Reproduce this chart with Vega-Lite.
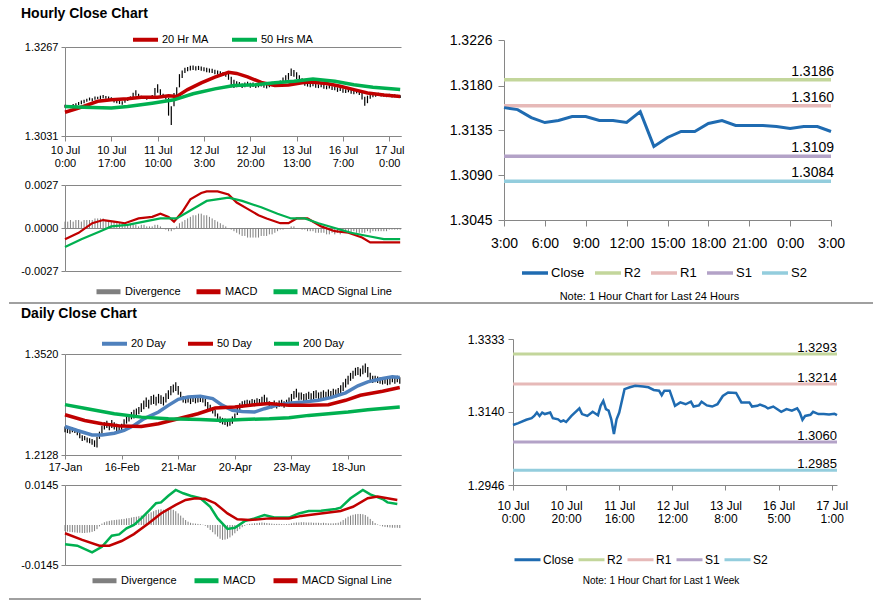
{
"$schema": "https://vega.github.io/schema/vega-lite/v6.json",
"padding": {"left": 8, "top": 7, "right": 0, "bottom": 0},
"spacing": 0,
"config": {
 "font": "Liberation Sans",
 "view": {"stroke": null},
 "axis": {"labelFont": "Liberation Sans", "labelFontSize": 11, "labelColor": "#000000", "domainColor": "#868686", "tickColor": "#868686", "gridColor": "#868686", "labelOverlap": false, "labelFlush": false},
 "legend": {"labelFont": "Liberation Sans", "labelFontSize": 11, "labelColor": "#000000", "padding": 0},
 "title": {"font": "Liberation Sans", "color": "#000000"}
},
"datasets": {
 "hb": [
{"i":0,"l":1.3106,"h":1.3114,"d":0.0004},{"i":1,"l":1.3107,"h":1.3113,"d":0.0004},{"i":2,"l":1.3105,"h":1.3112,"d":0.0005},{"i":3,"l":1.3108,"h":1.3116,"d":0.0004},{"i":4,"l":1.311,"h":1.3118,"d":0.0005},{"i":5,"l":1.3113,"h":1.3121,"d":0.0005},{"i":6,"l":1.3115,"h":1.3125,"d":0.0004},{"i":7,"l":1.3118,"h":1.3127,"d":0.0005},{"i":8,"l":1.3122,"h":1.313,"d":0.0005},{"i":9,"l":1.3125,"h":1.3133,"d":0.0005},
{"i":10,"l":1.3123,"h":1.3131,"d":0.0005},{"i":11,"l":1.3127,"h":1.3136,"d":0.0006},{"i":12,"l":1.3129,"h":1.3135,"d":0.0006},{"i":13,"l":1.3128,"h":1.3138,"d":0.0006},{"i":14,"l":1.3131,"h":1.314,"d":0.0006},{"i":15,"l":1.313,"h":1.3137,"d":0.0005},{"i":16,"l":1.3128,"h":1.3136,"d":0.0005},{"i":17,"l":1.3124,"h":1.3134,"d":0.0004},{"i":18,"l":1.312,"h":1.313,"d":0.0004},{"i":19,"l":1.3118,"h":1.3126,"d":0.0003},
{"i":20,"l":1.3116,"h":1.3124,"d":0.0003},{"i":21,"l":1.3114,"h":1.3123,"d":0.0003},{"i":22,"l":1.3119,"h":1.3128,"d":0.0002},{"i":23,"l":1.3124,"h":1.3133,"d":0.0002},{"i":24,"l":1.3127,"h":1.3136,"d":0.0002},{"i":25,"l":1.3132,"h":1.3146,"d":0.0002},{"i":26,"l":1.3138,"h":1.3152,"d":0.0002},{"i":27,"l":1.3133,"h":1.3143,"d":0.0001},{"i":28,"l":1.313,"h":1.3138,"d":0.0002},{"i":29,"l":1.3129,"h":1.3136,"d":0.0002},
{"i":30,"l":1.3127,"h":1.3135,"d":0.0001},{"i":31,"l":1.3129,"h":1.3137,"d":0.0001},{"i":32,"l":1.3131,"h":1.314,"d":0.0001},{"i":33,"l":1.3138,"h":1.3158,"d":0.0002},{"i":34,"l":1.3146,"h":1.3168,"d":0.0002},{"i":35,"l":1.314,"h":1.3155,"d":0.0001},{"i":36,"l":1.3132,"h":1.3143,"d":0.0},{"i":37,"l":1.3128,"h":1.3138,"d":-0.0001},{"i":38,"l":1.3085,"h":1.3132,"d":-0.0002},{"i":39,"l":1.306,"h":1.311,"d":-0.0002},
{"i":40,"l":1.311,"h":1.3145,"d":-0.0001},{"i":41,"l":1.314,"h":1.316,"d":0.0001},{"i":42,"l":1.316,"h":1.3195,"d":0.0003},{"i":43,"l":1.3185,"h":1.3205,"d":0.0004},{"i":44,"l":1.3198,"h":1.3212,"d":0.0005},{"i":45,"l":1.3203,"h":1.3214,"d":0.0006},{"i":46,"l":1.3205,"h":1.3217,"d":0.0007},{"i":47,"l":1.3206,"h":1.3218,"d":0.0008},{"i":48,"l":1.3205,"h":1.3216,"d":0.0008},{"i":49,"l":1.3206,"h":1.3217,"d":0.0009},
{"i":50,"l":1.3204,"h":1.3215,"d":0.0009},{"i":51,"l":1.3203,"h":1.3213,"d":0.0008},{"i":52,"l":1.32,"h":1.3212,"d":0.0008},{"i":53,"l":1.3199,"h":1.321,"d":0.0007},{"i":54,"l":1.3198,"h":1.3209,"d":0.0006},{"i":55,"l":1.3195,"h":1.3207,"d":0.0005},{"i":56,"l":1.3194,"h":1.3205,"d":0.0004},{"i":57,"l":1.3192,"h":1.3203,"d":0.0003},{"i":58,"l":1.319,"h":1.3201,"d":0.0002},{"i":59,"l":1.3188,"h":1.3198,"d":0.0001},
{"i":60,"l":1.318,"h":1.3196,"d":0.0},{"i":61,"l":1.316,"h":1.3188,"d":-0.0001},{"i":62,"l":1.3158,"h":1.318,"d":-0.0002},{"i":63,"l":1.316,"h":1.3176,"d":-0.0003},{"i":64,"l":1.3162,"h":1.3174,"d":-0.0004},{"i":65,"l":1.3158,"h":1.317,"d":-0.0005},{"i":66,"l":1.316,"h":1.3173,"d":-0.0005},{"i":67,"l":1.3163,"h":1.3175,"d":-0.0006},{"i":68,"l":1.3159,"h":1.3172,"d":-0.0006},{"i":69,"l":1.3161,"h":1.3173,"d":-0.0006},
{"i":70,"l":1.3158,"h":1.317,"d":-0.0006},{"i":71,"l":1.316,"h":1.3172,"d":-0.0006},{"i":72,"l":1.3162,"h":1.3174,"d":-0.0005},{"i":73,"l":1.3159,"h":1.3171,"d":-0.0005},{"i":74,"l":1.3157,"h":1.3169,"d":-0.0005},{"i":75,"l":1.316,"h":1.3172,"d":-0.0004},{"i":76,"l":1.3163,"h":1.3175,"d":-0.0004},{"i":77,"l":1.3161,"h":1.3173,"d":-0.0003},{"i":78,"l":1.3164,"h":1.3176,"d":-0.0002},{"i":79,"l":1.3166,"h":1.3178,"d":-0.0001},
{"i":80,"l":1.3172,"h":1.3186,"d":-0.0001},{"i":81,"l":1.3176,"h":1.3192,"d":0.0},{"i":82,"l":1.318,"h":1.3198,"d":0.0},{"i":83,"l":1.319,"h":1.321,"d":0.0001},{"i":84,"l":1.3188,"h":1.3206,"d":0.0001},{"i":85,"l":1.3182,"h":1.32,"d":0.0},{"i":86,"l":1.3176,"h":1.3192,"d":0.0},{"i":87,"l":1.317,"h":1.3184,"d":-0.0001},{"i":88,"l":1.3164,"h":1.3176,"d":-0.0001},{"i":89,"l":1.3162,"h":1.3173,"d":-0.0002},
{"i":90,"l":1.316,"h":1.3172,"d":-0.0002},{"i":91,"l":1.3163,"h":1.3174,"d":-0.0002},{"i":92,"l":1.3159,"h":1.317,"d":-0.0003},{"i":93,"l":1.3158,"h":1.3168,"d":-0.0003},{"i":94,"l":1.316,"h":1.3171,"d":-0.0003},{"i":95,"l":1.3156,"h":1.3167,"d":-0.0003},{"i":96,"l":1.3155,"h":1.3165,"d":-0.0004},{"i":97,"l":1.3157,"h":1.3167,"d":-0.0004},{"i":98,"l":1.3153,"h":1.3163,"d":-0.0003},{"i":99,"l":1.3152,"h":1.3162,"d":-0.0004},
{"i":100,"l":1.3148,"h":1.316,"d":-0.0003},{"i":101,"l":1.315,"h":1.3161,"d":-0.0004},{"i":102,"l":1.3146,"h":1.3157,"d":-0.0003},{"i":103,"l":1.3145,"h":1.3155,"d":-0.0003},{"i":104,"l":1.3147,"h":1.3156,"d":-0.0003},{"i":105,"l":1.3143,"h":1.3154,"d":-0.0003},{"i":106,"l":1.3142,"h":1.3152,"d":-0.0002},{"i":107,"l":1.3144,"h":1.3153,"d":-0.0003},{"i":108,"l":1.314,"h":1.3151,"d":-0.0003},{"i":109,"l":1.3128,"h":1.3145,"d":-0.0003},
{"i":110,"l":1.3111,"h":1.3135,"d":-0.0003},{"i":111,"l":1.3118,"h":1.3138,"d":-0.0002},{"i":112,"l":1.313,"h":1.3142,"d":-0.0003},{"i":113,"l":1.3134,"h":1.3144,"d":-0.0002},{"i":114,"l":1.3135,"h":1.3145,"d":-0.0002},{"i":115,"l":1.3137,"h":1.3146,"d":-0.0002},{"i":116,"l":1.3136,"h":1.3144,"d":-0.0002},{"i":117,"l":1.3135,"h":1.3143,"d":-0.0002},{"i":118,"l":1.3134,"h":1.3142,"d":-0.0002},{"i":119,"l":1.3135,"h":1.3143,"d":-0.0001},
{"i":120,"l":1.3133,"h":1.3141,"d":-0.0001},{"i":121,"l":1.3134,"h":1.3142,"d":-0.0001},{"i":122,"l":1.3133,"h":1.314,"d":-0.0001},{"i":123,"l":1.3132,"h":1.3139,"d":-0.0001}
 ],
 "hma": [
{"s":"20 Hr MA","i":0,"v":1.3094},{"s":"20 Hr MA","i":5,"v":1.3105},{"s":"20 Hr MA","i":12,"v":1.3123},{"s":"20 Hr MA","i":17,"v":1.3127},{"s":"20 Hr MA","i":23,"v":1.313},{"s":"20 Hr MA","i":28,"v":1.3134},{"s":"20 Hr MA","i":34,"v":1.3134},{"s":"20 Hr MA","i":38,"v":1.3138},{"s":"20 Hr MA","i":41,"v":1.3136},{"s":"20 Hr MA","i":45,"v":1.3154},{"s":"20 Hr MA","i":50,"v":1.3172},{"s":"20 Hr MA","i":55,"v":1.3187},{"s":"20 Hr MA","i":60,"v":1.32},{"s":"20 Hr MA","i":63,"v":1.3197},{"s":"20 Hr MA","i":67,"v":1.3188},{"s":"20 Hr MA","i":72,"v":1.3173},{"s":"20 Hr MA","i":77,"v":1.3165},{"s":"20 Hr MA","i":82,"v":1.3166},{"s":"20 Hr MA","i":87,"v":1.3172},{"s":"20 Hr MA","i":90,"v":1.3174},{"s":"20 Hr MA","i":96,"v":1.317},{"s":"20 Hr MA","i":101,"v":1.3163},{"s":"20 Hr MA","i":106,"v":1.3154},{"s":"20 Hr MA","i":111,"v":1.3145},{"s":"20 Hr MA","i":117,"v":1.314},{"s":"20 Hr MA","i":123,"v":1.3136},
{"s":"50 Hrs MA","i":0,"v":1.3109},{"s":"50 Hrs MA","i":7,"v":1.3107},{"s":"50 Hrs MA","i":17,"v":1.3105},{"s":"50 Hrs MA","i":23,"v":1.3109},{"s":"50 Hrs MA","i":32,"v":1.3118},{"s":"50 Hrs MA","i":40,"v":1.3127},{"s":"50 Hrs MA","i":47,"v":1.3143},{"s":"50 Hrs MA","i":55,"v":1.3156},{"s":"50 Hrs MA","i":62,"v":1.3165},{"s":"50 Hrs MA","i":70,"v":1.3167},{"s":"50 Hrs MA","i":77,"v":1.3172},{"s":"50 Hrs MA","i":84,"v":1.3176},{"s":"50 Hrs MA","i":91,"v":1.3182},{"s":"50 Hrs MA","i":99,"v":1.3176},{"s":"50 Hrs MA","i":106,"v":1.3167},{"s":"50 Hrs MA","i":113,"v":1.316},{"s":"50 Hrs MA","i":123,"v":1.3154}
 ],
 "hmacd": [
{"s":"MACD","i":0,"v":-0.0007},{"s":"MACD","i":5,"v":-0.0003},{"s":"MACD","i":10,"v":0.0003},{"s":"MACD","i":14,"v":0.0005},{"s":"MACD","i":18,"v":0.0004},{"s":"MACD","i":22,"v":0.0003},{"s":"MACD","i":27,"v":0.0006},{"s":"MACD","i":32,"v":0.0007},{"s":"MACD","i":35,"v":0.0009},{"s":"MACD","i":38,"v":0.0007},{"s":"MACD","i":40,"v":0.0004},{"s":"MACD","i":43,"v":0.001},{"s":"MACD","i":46,"v":0.0018},{"s":"MACD","i":50,"v":0.0022},{"s":"MACD","i":52,"v":0.0023},{"s":"MACD","i":56,"v":0.0023},{"s":"MACD","i":60,"v":0.0021},{"s":"MACD","i":63,"v":0.0016},{"s":"MACD","i":67,"v":0.0012},{"s":"MACD","i":71,"v":0.0008},{"s":"MACD","i":74,"v":0.0006},{"s":"MACD","i":79,"v":0.0003},{"s":"MACD","i":82,"v":0.0003},{"s":"MACD","i":85,"v":0.0006},{"s":"MACD","i":89,"v":0.0006},{"s":"MACD","i":94,"v":0.0001},{"s":"MACD","i":99,"v":-0.0002},{"s":"MACD","i":104,"v":-0.0003},{"s":"MACD","i":109,"v":-0.0006},{"s":"MACD","i":112,"v":-0.0009},{"s":"MACD","i":117,"v":-0.0009},{"s":"MACD","i":123,"v":-0.0009},
{"s":"MACD Signal Line","i":0,"v":-0.0012},{"s":"MACD Signal Line","i":6,"v":-0.0007},{"s":"MACD Signal Line","i":13,"v":-0.0002},{"s":"MACD Signal Line","i":17,"v":0.0001},{"s":"MACD Signal Line","i":23,"v":0.0002},{"s":"MACD Signal Line","i":29,"v":0.0004},{"s":"MACD Signal Line","i":35,"v":0.0006},{"s":"MACD Signal Line","i":41,"v":0.0006},{"s":"MACD Signal Line","i":46,"v":0.0011},{"s":"MACD Signal Line","i":52,"v":0.0017},{"s":"MACD Signal Line","i":60,"v":0.0019},{"s":"MACD Signal Line","i":65,"v":0.0017},{"s":"MACD Signal Line","i":72,"v":0.0013},{"s":"MACD Signal Line","i":78,"v":0.0009},{"s":"MACD Signal Line","i":83,"v":0.0006},{"s":"MACD Signal Line","i":88,"v":0.0006},{"s":"MACD Signal Line","i":93,"v":0.0003},{"s":"MACD Signal Line","i":99,"v":0.0},{"s":"MACD Signal Line","i":105,"v":-0.0003},{"s":"MACD Signal Line","i":111,"v":-0.0005},{"s":"MACD Signal Line","i":117,"v":-0.0007},{"s":"MACD Signal Line","i":123,"v":-0.0007}
 ],
 "c24": [
{"i":0,"v":1.3158},{"i":1,"v":1.3156},{"i":2,"v":1.3148},{"i":3,"v":1.3143},{"i":4,"v":1.3145},{"i":5,"v":1.3149},{"i":6,"v":1.3149},{"i":7,"v":1.3145},{"i":8,"v":1.3145},{"i":9,"v":1.3143},{"i":10,"v":1.3154},{"i":11,"v":1.3119},{"i":12,"v":1.3128},{"i":13,"v":1.3134},{"i":14,"v":1.3134},{"i":15,"v":1.3142},{"i":16,"v":1.3145},{"i":17,"v":1.314},{"i":18,"v":1.314},{"i":19,"v":1.314},{"i":20,"v":1.3139},{"i":21,"v":1.3137},{"i":22,"v":1.3139},{"i":23,"v":1.3139},{"i":24,"v":1.3134}
 ],
 "l24": [{"s":"R2","v":1.3186},{"s":"R1","v":1.316},{"s":"S1","v":1.3109},{"s":"S2","v":1.3084}],
 "db": [
{"i":0,"l":1.244,"h":1.252,"d":-0.0022},{"i":1,"l":1.243,"h":1.25,"d":-0.0024},{"i":2,"l":1.242,"h":1.249,"d":-0.0025},{"i":3,"l":1.244,"h":1.251,"d":-0.0026},{"i":4,"l":1.243,"h":1.2495,"d":-0.0027},{"i":5,"l":1.24,"h":1.247,"d":-0.0028},{"i":6,"l":1.236,"h":1.243,"d":-0.0028},{"i":7,"l":1.232,"h":1.24,"d":-0.0029},{"i":8,"l":1.233,"h":1.239,"d":-0.0029},{"i":9,"l":1.23,"h":1.237,"d":-0.0028},
{"i":10,"l":1.229,"h":1.236,"d":-0.0027},{"i":11,"l":1.227,"h":1.235,"d":-0.0025},{"i":12,"l":1.224,"h":1.233,"d":-0.0022},{"i":13,"l":1.223,"h":1.238,"d":-0.0015},{"i":14,"l":1.235,"h":1.245,"d":-0.0005},{"i":15,"l":1.242,"h":1.253,"d":0.0005},{"i":16,"l":1.248,"h":1.258,"d":0.001},{"i":17,"l":1.25,"h":1.26,"d":0.0013},{"i":18,"l":1.247,"h":1.257,"d":0.0015},{"i":19,"l":1.25,"h":1.261,"d":0.0017},
{"i":20,"l":1.248,"h":1.258,"d":0.0018},{"i":21,"l":1.246,"h":1.256,"d":0.0019},{"i":22,"l":1.245,"h":1.254,"d":0.002},{"i":23,"l":1.247,"h":1.256,"d":0.0021},{"i":24,"l":1.252,"h":1.262,"d":0.0022},{"i":25,"l":1.256,"h":1.266,"d":0.0024},{"i":26,"l":1.259,"h":1.269,"d":0.0025},{"i":27,"l":1.262,"h":1.272,"d":0.0027},{"i":28,"l":1.263,"h":1.275,"d":0.0029},{"i":29,"l":1.265,"h":1.277,"d":0.003},
{"i":30,"l":1.269,"h":1.279,"d":0.0032},{"i":31,"l":1.272,"h":1.284,"d":0.0034},{"i":32,"l":1.276,"h":1.288,"d":0.0036},{"i":33,"l":1.279,"h":1.292,"d":0.0038},{"i":34,"l":1.277,"h":1.289,"d":0.0041},{"i":35,"l":1.282,"h":1.294,"d":0.0046},{"i":36,"l":1.283,"h":1.296,"d":0.005},{"i":37,"l":1.281,"h":1.293,"d":0.0054},{"i":38,"l":1.284,"h":1.297,"d":0.0056},{"i":39,"l":1.283,"h":1.295,"d":0.0057},
{"i":40,"l":1.281,"h":1.293,"d":0.0055},{"i":41,"l":1.285,"h":1.298,"d":0.0056},{"i":42,"l":1.29,"h":1.302,"d":0.0057},{"i":43,"l":1.295,"h":1.308,"d":0.0058},{"i":44,"l":1.299,"h":1.31,"d":0.0055},{"i":45,"l":1.301,"h":1.313,"d":0.005},{"i":46,"l":1.296,"h":1.308,"d":0.0042},{"i":47,"l":1.29,"h":1.3,"d":0.0034},{"i":48,"l":1.285,"h":1.294,"d":0.0026},{"i":49,"l":1.284,"h":1.292,"d":0.0018},
{"i":50,"l":1.285,"h":1.293,"d":0.0012},{"i":51,"l":1.283,"h":1.292,"d":0.0008},{"i":52,"l":1.286,"h":1.294,"d":0.0006},{"i":53,"l":1.284,"h":1.292,"d":0.0005},{"i":54,"l":1.285,"h":1.293,"d":0.0004},{"i":55,"l":1.286,"h":1.295,"d":0.0003},{"i":56,"l":1.285,"h":1.294,"d":0.0001},{"i":57,"l":1.28,"h":1.29,"d":-0.0003},{"i":58,"l":1.276,"h":1.286,"d":-0.001},{"i":59,"l":1.273,"h":1.282,"d":-0.0018},
{"i":60,"l":1.27,"h":1.279,"d":-0.0026},{"i":61,"l":1.266,"h":1.275,"d":-0.0034},{"i":62,"l":1.262,"h":1.27,"d":-0.0042},{"i":63,"l":1.257,"h":1.266,"d":-0.005},{"i":64,"l":1.255,"h":1.264,"d":-0.0054},{"i":65,"l":1.254,"h":1.263,"d":-0.0053},{"i":66,"l":1.252,"h":1.261,"d":-0.005},{"i":67,"l":1.253,"h":1.262,"d":-0.0045},{"i":68,"l":1.256,"h":1.266,"d":-0.0038},{"i":69,"l":1.26,"h":1.27,"d":-0.003},
{"i":70,"l":1.268,"h":1.279,"d":-0.0022},{"i":71,"l":1.274,"h":1.284,"d":-0.0015},{"i":72,"l":1.278,"h":1.287,"d":-0.0008},{"i":73,"l":1.279,"h":1.288,"d":-0.0003},{"i":74,"l":1.28,"h":1.289,"d":0.0002},{"i":75,"l":1.279,"h":1.288,"d":0.0004},{"i":76,"l":1.281,"h":1.29,"d":0.0005},{"i":77,"l":1.28,"h":1.289,"d":0.0006},{"i":78,"l":1.282,"h":1.291,"d":0.0007},{"i":79,"l":1.281,"h":1.29,"d":0.0008},
{"i":80,"l":1.283,"h":1.293,"d":0.0009},{"i":81,"l":1.284,"h":1.296,"d":0.0008},{"i":82,"l":1.282,"h":1.292,"d":0.0007},{"i":83,"l":1.278,"h":1.287,"d":0.0006},{"i":84,"l":1.277,"h":1.286,"d":0.0005},{"i":85,"l":1.279,"h":1.288,"d":0.0004},{"i":86,"l":1.277,"h":1.285,"d":0.0004},{"i":87,"l":1.279,"h":1.288,"d":0.0004},{"i":88,"l":1.28,"h":1.289,"d":0.0003},{"i":89,"l":1.278,"h":1.287,"d":0.0003},
{"i":90,"l":1.28,"h":1.289,"d":0.0003},{"i":91,"l":1.282,"h":1.292,"d":0.0004},{"i":92,"l":1.286,"h":1.297,"d":0.0006},{"i":93,"l":1.29,"h":1.301,"d":0.0008},{"i":94,"l":1.292,"h":1.304,"d":0.0009},{"i":95,"l":1.288,"h":1.299,"d":0.0009},{"i":96,"l":1.289,"h":1.299,"d":0.001},{"i":97,"l":1.287,"h":1.297,"d":0.001},{"i":98,"l":1.288,"h":1.298,"d":0.0009},{"i":99,"l":1.29,"h":1.3,"d":0.0009},
{"i":100,"l":1.288,"h":1.298,"d":0.0009},{"i":101,"l":1.29,"h":1.301,"d":0.0008},{"i":102,"l":1.291,"h":1.302,"d":0.0008},{"i":103,"l":1.289,"h":1.299,"d":0.0008},{"i":104,"l":1.29,"h":1.3,"d":0.0007},{"i":105,"l":1.291,"h":1.302,"d":0.0008},{"i":106,"l":1.29,"h":1.3,"d":0.0007},{"i":107,"l":1.292,"h":1.303,"d":0.0006},{"i":108,"l":1.291,"h":1.301,"d":0.0006},{"i":109,"l":1.293,"h":1.304,"d":0.0006},
{"i":110,"l":1.292,"h":1.303,"d":0.0007},{"i":111,"l":1.294,"h":1.305,"d":0.0008},{"i":112,"l":1.298,"h":1.309,"d":0.0012},{"i":113,"l":1.301,"h":1.313,"d":0.0018},{"i":114,"l":1.306,"h":1.318,"d":0.0024},{"i":115,"l":1.31,"h":1.322,"d":0.003},{"i":116,"l":1.315,"h":1.326,"d":0.0034},{"i":117,"l":1.318,"h":1.329,"d":0.0037},{"i":118,"l":1.322,"h":1.333,"d":0.0039},{"i":119,"l":1.323,"h":1.334,"d":0.004},
{"i":120,"l":1.321,"h":1.332,"d":0.004},{"i":121,"l":1.324,"h":1.336,"d":0.0039},{"i":122,"l":1.326,"h":1.339,"d":0.0036},{"i":123,"l":1.32,"h":1.334,"d":0.003},{"i":124,"l":1.315,"h":1.326,"d":0.0022},{"i":125,"l":1.312,"h":1.322,"d":0.0014},{"i":126,"l":1.313,"h":1.322,"d":0.0007},{"i":127,"l":1.312,"h":1.321,"d":0.0002},{"i":128,"l":1.311,"h":1.32,"d":-0.0002},{"i":129,"l":1.31,"h":1.319,"d":-0.0005},
{"i":130,"l":1.311,"h":1.319,"d":-0.0007},{"i":131,"l":1.309,"h":1.318,"d":-0.0008},{"i":132,"l":1.31,"h":1.32,"d":-0.0009},{"i":133,"l":1.313,"h":1.322,"d":-0.001},{"i":134,"l":1.311,"h":1.321,"d":-0.001},{"i":135,"l":1.313,"h":1.322,"d":-0.001},{"i":136,"l":1.311,"h":1.32,"d":-0.0011}
 ],
 "dma": [
{"s":"20 Day","i":0,"v":1.2521},{"s":"20 Day","i":5,"v":1.2466},{"s":"20 Day","i":11,"v":1.2405},{"s":"20 Day","i":15,"v":1.2405},{"s":"20 Day","i":20,"v":1.2429},{"s":"20 Day","i":24,"v":1.2466},{"s":"20 Day","i":28,"v":1.2535},{"s":"20 Day","i":32,"v":1.2627},{"s":"20 Day","i":38,"v":1.272},{"s":"20 Day","i":42,"v":1.2812},{"s":"20 Day","i":46,"v":1.2896},{"s":"20 Day","i":50,"v":1.2928},{"s":"20 Day","i":55,"v":1.2937},{"s":"20 Day","i":60,"v":1.2905},{"s":"20 Day","i":64,"v":1.2812},{"s":"20 Day","i":68,"v":1.2743},{"s":"20 Day","i":72,"v":1.2729},{"s":"20 Day","i":77,"v":1.272},{"s":"20 Day","i":81,"v":1.2766},{"s":"20 Day","i":87,"v":1.2822},{"s":"20 Day","i":92,"v":1.2845},{"s":"20 Day","i":97,"v":1.2859},{"s":"20 Day","i":103,"v":1.2882},{"s":"20 Day","i":108,"v":1.2919},{"s":"20 Day","i":114,"v":1.2984},{"s":"20 Day","i":119,"v":1.3081},{"s":"20 Day","i":123,"v":1.3136},{"s":"20 Day","i":129,"v":1.3182},{"s":"20 Day","i":133,"v":1.3205},{"s":"20 Day","i":136,"v":1.3196},
{"s":"50 Day","i":0,"v":1.2683},{"s":"50 Day","i":8,"v":1.2604},{"s":"50 Day","i":15,"v":1.2558},{"s":"50 Day","i":23,"v":1.2526},{"s":"50 Day","i":31,"v":1.2521},{"s":"50 Day","i":38,"v":1.2558},{"s":"50 Day","i":46,"v":1.2627},{"s":"50 Day","i":54,"v":1.2697},{"s":"50 Day","i":61,"v":1.2775},{"s":"50 Day","i":69,"v":1.2789},{"s":"50 Day","i":77,"v":1.2822},{"s":"50 Day","i":83,"v":1.2836},{"s":"50 Day","i":91,"v":1.2812},{"s":"50 Day","i":99,"v":1.2812},{"s":"50 Day","i":107,"v":1.2822},{"s":"50 Day","i":114,"v":1.2882},{"s":"50 Day","i":120,"v":1.2951},{"s":"50 Day","i":129,"v":1.3007},{"s":"50 Day","i":136,"v":1.3058},
{"s":"200 Day","i":0,"v":1.2822},{"s":"200 Day","i":9,"v":1.2766},{"s":"200 Day","i":20,"v":1.2697},{"s":"200 Day","i":31,"v":1.265},{"s":"200 Day","i":42,"v":1.2627},{"s":"200 Day","i":55,"v":1.2618},{"s":"200 Day","i":64,"v":1.2604},{"s":"200 Day","i":72,"v":1.2618},{"s":"200 Day","i":83,"v":1.2627},{"s":"200 Day","i":91,"v":1.2641},{"s":"200 Day","i":99,"v":1.2674},{"s":"200 Day","i":107,"v":1.2697},{"s":"200 Day","i":115,"v":1.272},{"s":"200 Day","i":123,"v":1.2752},{"s":"200 Day","i":136,"v":1.2789}
 ],
 "dmacd": [
{"s":"MACD","i":0,"v":-0.007},{"s":"MACD","i":5,"v":-0.0075},{"s":"MACD","i":11,"v":-0.0099},{"s":"MACD","i":15,"v":-0.0079},{"s":"MACD","i":19,"v":-0.0039},{"s":"MACD","i":22,"v":-0.0034},{"s":"MACD","i":25,"v":-0.0012},{"s":"MACD","i":28,"v":0.0},{"s":"MACD","i":31,"v":0.0024},{"s":"MACD","i":35,"v":0.006},{"s":"MACD","i":37,"v":0.0079},{"s":"MACD","i":39,"v":0.0082},{"s":"MACD","i":42,"v":0.0106},{"s":"MACD","i":45,"v":0.0127},{"s":"MACD","i":48,"v":0.0115},{"s":"MACD","i":51,"v":0.0106},{"s":"MACD","i":55,"v":0.0097},{"s":"MACD","i":59,"v":0.0066},{"s":"MACD","i":62,"v":0.0024},{"s":"MACD","i":66,"v":-0.0014},{"s":"MACD","i":69,"v":-0.001},{"s":"MACD","i":73,"v":0.0014},{"s":"MACD","i":77,"v":0.0024},{"s":"MACD","i":81,"v":0.0036},{"s":"MACD","i":85,"v":0.0027},{"s":"MACD","i":91,"v":0.0027},{"s":"MACD","i":95,"v":0.0042},{"s":"MACD","i":99,"v":0.0051},{"s":"MACD","i":104,"v":0.0052},{"s":"MACD","i":110,"v":0.0058},{"s":"MACD","i":112,"v":0.0063},{"s":"MACD","i":116,"v":0.0097},{"s":"MACD","i":121,"v":0.0127},{"s":"MACD","i":124,"v":0.0111},{"s":"MACD","i":129,"v":0.0094},{"s":"MACD","i":131,"v":0.0082},{"s":"MACD","i":135,"v":0.0076},
{"s":"MACD Signal Line","i":0,"v":-0.003},{"s":"MACD Signal Line","i":7,"v":-0.0054},{"s":"MACD Signal Line","i":14,"v":-0.0075},{"s":"MACD Signal Line","i":18,"v":-0.0075},{"s":"MACD Signal Line","i":23,"v":-0.0058},{"s":"MACD Signal Line","i":28,"v":-0.0033},{"s":"MACD Signal Line","i":34,"v":0.0006},{"s":"MACD Signal Line","i":39,"v":0.0042},{"s":"MACD Signal Line","i":45,"v":0.0073},{"s":"MACD Signal Line","i":49,"v":0.0091},{"s":"MACD Signal Line","i":53,"v":0.0097},{"s":"MACD Signal Line","i":57,"v":0.0094},{"s":"MACD Signal Line","i":61,"v":0.0079},{"s":"MACD Signal Line","i":66,"v":0.0042},{"s":"MACD Signal Line","i":70,"v":0.0021},{"s":"MACD Signal Line","i":75,"v":0.0018},{"s":"MACD Signal Line","i":83,"v":0.0024},{"s":"MACD Signal Line","i":91,"v":0.0024},{"s":"MACD Signal Line","i":96,"v":0.0033},{"s":"MACD Signal Line","i":104,"v":0.0042},{"s":"MACD Signal Line","i":112,"v":0.0051},{"s":"MACD Signal Line","i":117,"v":0.0066},{"s":"MACD Signal Line","i":123,"v":0.0097},{"s":"MACD Signal Line","i":127,"v":0.0103},{"s":"MACD Signal Line","i":135,"v":0.0091}
 ],
 "c1w": [
{"i":0,"v":1.3105},{"i":2,"v":1.311},{"i":5,"v":1.3119},{"i":7,"v":1.3123},{"i":8,"v":1.3129},{"i":9,"v":1.3138},{"i":10,"v":1.3129},{"i":11,"v":1.3138},{"i":12,"v":1.3134},{"i":14,"v":1.3138},{"i":15,"v":1.3123},{"i":17,"v":1.312},{"i":18,"v":1.3114},{"i":19,"v":1.3117},{"i":20,"v":1.3113},{"i":22,"v":1.3129},{"i":25,"v":1.3149},{"i":26,"v":1.3134},{"i":28,"v":1.3129},{"i":30,"v":1.314},{"i":32,"v":1.3131},{"i":33,"v":1.3156},{"i":34,"v":1.3169},{"i":35,"v":1.3147},{"i":36,"v":1.3143},{"i":37,"v":1.312},{"i":38,"v":1.3081},{"i":39,"v":1.312},{"i":40,"v":1.3138},{"i":42,"v":1.32},{"i":44,"v":1.3205},{"i":46,"v":1.3209},{"i":49,"v":1.3207},{"i":51,"v":1.3205},{"i":53,"v":1.3198},{"i":55,"v":1.3196},{"i":56,"v":1.3184},{"i":57,"v":1.3196},{"i":59,"v":1.3196},{"i":61,"v":1.3156},{"i":63,"v":1.3165},{"i":65,"v":1.316},{"i":67,"v":1.3167},{"i":68,"v":1.3154},{"i":70,"v":1.3157},{"i":71,"v":1.3167},{"i":73,"v":1.3157},{"i":75,"v":1.3154},{"i":77,"v":1.316},{"i":79,"v":1.3182},{"i":81,"v":1.3191},{"i":84,"v":1.319},{"i":86,"v":1.3165},{"i":89,"v":1.3165},{"i":90,"v":1.3154},{"i":92,"v":1.3156},{"i":93,"v":1.3159},{"i":95,"v":1.3154},{"i":96,"v":1.3149},{"i":98,"v":1.3154},{"i":101,"v":1.314},{"i":103,"v":1.3147},{"i":105,"v":1.3143},{"i":107,"v":1.3149},{"i":108,"v":1.3138},{"i":109,"v":1.3119},{"i":110,"v":1.3129},{"i":112,"v":1.3132},{"i":113,"v":1.314},{"i":115,"v":1.3134},{"i":117,"v":1.3134},{"i":119,"v":1.3133},{"i":121,"v":1.3135},{"i":122,"v":1.3131}
 ],
 "l1w": [{"s":"R2","v":1.3293},{"s":"R1","v":1.3214},{"s":"S1","v":1.306},{"s":"S2","v":1.2985}]
},
"resolve": {"scale": {"color": "independent"}, "legend": {"color": "independent"}},
"vconcat": [
 {
  "spacing": 40,
  "resolve": {"scale": {"color": "independent"}, "legend": {"color": "independent"}},
  "hconcat": [
   {
    "spacing": 3,
    "resolve": {"scale": {"color": "independent"}, "legend": {"color": "independent"}},
    "vconcat": [
     {
      "width": 336, "height": 1,
      "title": {"text": "Hourly Close Chart", "anchor": "start", "frame": "group", "fontSize": 14, "fontWeight": "bold", "dx": -44, "offset": 0},
      "data": {"values": []},
      "mark": "point"
     },
     {
      "width": 336, "height": 89,
      "layer": [
       {"data": {"name": "hb"}, "mark": {"type": "rule", "color": "#000000", "strokeWidth": 1.2},
        "encoding": {
         "x": {"field": "i", "type": "quantitative", "scale": {"domain": [0, 123.3], "nice": false, "zero": false},
               "axis": {"title": null, "grid": false, "values": [0,17,34,51,68,85,102,119], "tickSize": 5, "labelPadding": 3, "labelLineHeight": 13, "minExtent": 40,
                        "labelExpr": "[['10 Jul','0:00'],['10 Jul','17:00'],['11 Jul','10:00'],['12 Jul','3:00'],['12 Jul','20:00'],['13 Jul','13:00'],['16 Jul','7:00'],['17 Jul','0:00']][round(datum.value/17)]"}},
         "y": {"field": "l", "type": "quantitative", "scale": {"domain": [1.3031, 1.3267], "nice": false, "zero": false},
               "axis": {"title": null, "grid": true, "values": [1.3031,1.3109,1.3188,1.3267], "format": ".4f", "tickSize": 4, "labelPadding": 3, "minExtent": 56}},
         "y2": {"field": "h"}
        }},
       {"data": {"name": "hma"}, "mark": {"type": "line", "strokeWidth": 3.5},
        "encoding": {
         "x": {"field": "i", "type": "quantitative"},
         "y": {"field": "v", "type": "quantitative"},
         "color": {"field": "s", "type": "nominal", "title": null, "scale": {"domain": ["20 Hr MA", "50 Hrs MA"], "range": ["#C00000", "#00B050"]},
                   "legend": {"title": null, "orient": "none", "legendX": 66, "legendY": -22, "direction": "horizontal", "symbolType": "stroke", "symbolSize": 625, "symbolStrokeWidth": 4, "labelOffset": 2, "columnPadding": 15}}
        }}
      ]
     },
     {
      "width": 336, "height": 86,
      "layer": [
       {"data": {"name": "hb"}, "mark": {"type": "rule", "strokeWidth": 1},
        "encoding": {
         "x": {"field": "i", "type": "quantitative", "scale": {"domain": [0, 123.3], "nice": false, "zero": false}, "axis": null},
         "y": {"field": "d", "type": "quantitative", "scale": {"domain": [-0.0027, 0.0027], "nice": false},
               "axis": {"title": null, "grid": true, "values": [-0.0027, 0, 0.0027], "format": ".4f", "labelExpr": "replace(datum.label, '\u2212', '-')", "tickSize": 4, "labelPadding": 3, "minExtent": 56}},
         "y2": {"datum": 0},
         "color": {"datum": "Divergence", "type": "nominal", "title": null, "scale": {"domain": ["Divergence", "MACD", "MACD Signal Line"], "range": ["#7F7F7F", "#C00000", "#00B050"]},
                   "legend": {"title": null, "orient": "none", "legendX": 29, "legendY": 92, "direction": "horizontal", "symbolType": "stroke", "symbolSize": 576, "symbolStrokeWidth": 5, "labelOffset": 2, "columnPadding": 5}}
        }},
       {"data": {"name": "hmacd"}, "mark": {"type": "line", "strokeWidth": 2.2},
        "encoding": {
         "x": {"field": "i", "type": "quantitative"},
         "y": {"field": "v", "type": "quantitative"},
         "color": {"field": "s", "type": "nominal", "title": null}
        }}
      ]
     }
    ]
   },
   {
    "spacing": 11,
    "resolve": {"scale": {"color": "independent"}, "legend": {"color": "independent"}},
    "vconcat": [
     {"width": 1, "height": 1, "data": {"values": []}, "mark": "point"},
     {
      "width": 327, "height": 180,
      "title": {"text": "Note: 1 Hour Chart for Last 24 Hours", "orient": "bottom", "anchor": "middle", "frame": "group", "fontSize": 11, "fontWeight": "normal", "dx": -18, "offset": 11},
      "layer": [
       {"data": {"name": "l24"}, "mark": {"type": "rule", "strokeWidth": 3.5},
        "encoding": {
         "y": {"field": "v", "type": "quantitative"},
         "color": {"field": "s", "type": "nominal", "title": null, "scale": {"domain": ["Close", "R2", "R1", "S1", "S2"], "range": ["#1F6BB1", "#C3D69B", "#E6B9B8", "#B3A2C7", "#93CDDD"]},
                   "legend": {"title": null, "orient": "none", "legendX": 16, "legendY": 218, "direction": "horizontal", "symbolType": "stroke", "symbolSize": 676, "symbolStrokeWidth": 3.5, "labelOffset": 1, "columnPadding": 3, "labelFontSize": 13}}
        }},
       {"data": {"name": "c24"}, "mark": {"type": "line", "strokeWidth": 3},
        "encoding": {
         "x": {"field": "i", "type": "quantitative", "scale": {"domain": [0, 24], "nice": false, "zero": false},
               "axis": {"title": null, "grid": false, "values": [0,3,6,9,12,15,18,21,24], "labelExpr": "((datum.value + 3) % 24) + ':00'", "tickSize": 6, "labelPadding": 10, "labelFontSize": 14}},
         "y": {"field": "v", "type": "quantitative", "scale": {"domain": [1.3045, 1.3226], "nice": false, "zero": false},
               "axis": {"title": null, "grid": false, "values": [1.3045,1.309,1.3135,1.318,1.3226], "format": ".4f", "tickSize": 6, "labelPadding": 6, "labelFontSize": 14, "minExtent": 56}},
         "color": {"datum": "Close", "type": "nominal", "title": null}
        }},
       {"data": {"name": "l24"}, "mark": {"type": "text", "align": "right", "baseline": "alphabetic", "dx": 3, "dy": -4, "fontSize": 14, "color": "#000000"},
        "encoding": {
         "x": {"datum": 24, "type": "quantitative"},
         "y": {"field": "v", "type": "quantitative"},
         "text": {"field": "v", "type": "quantitative", "format": ".4f"}
        }}
      ]
     }
    ]
   }
  ]
 },
 {
  "width": 809, "height": 4,
  "data": {"values": [{"v": 1}]},
  "mark": {"type": "rule", "color": "#808080", "strokeWidth": 1.5},
  "encoding": {
   "x": {"datum": -0.0692, "type": "quantitative", "scale": {"domain": [0, 1], "nice": false, "zero": false}, "axis": null},
   "x2": {"datum": 1},
   "y": {"field": "v", "type": "quantitative", "scale": {"domain": [0, 1]}, "axis": null}
  }
 },
 {
  "spacing": 41,
  "resolve": {"scale": {"color": "independent"}, "legend": {"color": "independent"}},
  "hconcat": [
   {
    "spacing": 7,
    "resolve": {"scale": {"color": "independent"}, "legend": {"color": "independent"}},
    "vconcat": [
     {
      "width": 336, "height": 1,
      "title": {"text": "Daily Close Chart", "anchor": "start", "frame": "group", "fontSize": 14, "fontWeight": "bold", "dx": -44, "offset": 0},
      "data": {"values": []},
      "mark": "point"
     },
     {
      "width": 336, "height": 101,
      "layer": [
       {"data": {"name": "db"}, "mark": {"type": "rule", "color": "#000000", "strokeWidth": 1.2},
        "encoding": {
         "x": {"field": "i", "type": "quantitative", "scale": {"domain": [0, 136.5], "nice": false, "zero": false},
               "axis": {"title": null, "grid": false, "values": [0,23,46,69,92,115], "tickSize": 4, "labelPadding": 2,
                        "labelExpr": "['17-Jan','16-Feb','21-Mar','20-Apr','23-May','18-Jun'][round(datum.value/23)]"}},
         "y": {"field": "l", "type": "quantitative", "scale": {"domain": [1.2128, 1.352], "nice": false, "zero": false},
               "axis": {"title": null, "grid": true, "values": [1.2128,1.2592,1.3056,1.352], "format": ".4f", "tickSize": 4, "labelPadding": 3, "minExtent": 56}},
         "y2": {"field": "h"}
        }},
       {"data": {"name": "dma"}, "mark": {"type": "line", "strokeWidth": 3.5},
        "encoding": {
         "x": {"field": "i", "type": "quantitative"},
         "y": {"field": "v", "type": "quantitative"},
         "color": {"field": "s", "type": "nominal", "title": null, "scale": {"domain": ["20 Day", "50 Day", "200 Day"], "range": ["#4F81BD", "#C00000", "#00B050"]},
                   "legend": {"title": null, "orient": "none", "legendX": 35, "legendY": -25, "direction": "horizontal", "symbolType": "stroke", "symbolSize": 625, "symbolStrokeWidth": 4, "labelOffset": 2, "columnPadding": 8, "gridAlign": "all"}}
        }}
      ]
     },
     {
      "width": 336, "height": 80,
      "layer": [
       {"data": {"name": "db"}, "mark": {"type": "rule", "strokeWidth": 1},
        "encoding": {
         "x": {"field": "i", "type": "quantitative", "scale": {"domain": [0, 136.5], "nice": false, "zero": false}, "axis": null},
         "y": {"field": "d", "type": "quantitative", "scale": {"domain": [-0.0145, 0.0145], "nice": false},
               "axis": {"title": null, "grid": true, "values": [-0.0145, 0, 0.0145], "format": ".4f", "labelExpr": "replace(datum.label, '\u2212', '-')", "tickSize": 4, "labelPadding": 3, "minExtent": 56}},
         "y2": {"datum": 0},
         "color": {"datum": "Divergence", "type": "nominal", "title": null, "scale": {"domain": ["Divergence", "MACD", "MACD Signal Line"], "range": ["#7F7F7F", "#00B050", "#C00000"]},
                   "legend": {"title": null, "orient": "none", "legendX": 25, "legendY": 81, "direction": "horizontal", "symbolType": "stroke", "symbolSize": 576, "symbolStrokeWidth": 5, "labelOffset": 2, "columnPadding": 7}}
        }},
       {"data": {"name": "dmacd"}, "mark": {"type": "line", "strokeWidth": 2.5},
        "encoding": {
         "x": {"field": "i", "type": "quantitative"},
         "y": {"field": "v", "type": "quantitative"},
         "color": {"field": "s", "type": "nominal", "title": null}
        }}
      ]
     },
     {
      "width": 356, "height": 1,
      "data": {"values": [{"v": 1}]},
      "mark": {"type": "rule", "color": "#808080", "strokeWidth": 1.5},
      "encoding": {
       "x": {"datum": -0.1573, "type": "quantitative", "scale": {"domain": [0, 1], "nice": false, "zero": false}, "axis": null},
       "x2": {"datum": 1},
       "y": {"field": "v", "type": "quantitative", "scale": {"domain": [0, 1]}, "axis": null}
      }
     }
    ]
   },
   {
    "spacing": 11,
    "resolve": {"scale": {"color": "independent"}, "legend": {"color": "independent"}},
    "vconcat": [
     {"width": 1, "height": 1, "data": {"values": []}, "mark": "point"},
     {
      "width": 324, "height": 146,
      "title": {"text": "Note: 1 Hour Chart for  Last 1 Week", "orient": "bottom", "anchor": "middle", "frame": "group", "fontSize": 10, "fontWeight": "normal", "dx": -14, "offset": 10},
      "layer": [
       {"data": {"name": "l1w"}, "mark": {"type": "rule", "strokeWidth": 3},
        "encoding": {
         "y": {"field": "v", "type": "quantitative"},
         "color": {"field": "s", "type": "nominal", "title": null, "scale": {"domain": ["Close", "R2", "R1", "S1", "S2"], "range": ["#1F6BB1", "#C3D69B", "#E6B9B8", "#B3A2C7", "#93CDDD"]},
                   "legend": {"title": null, "orient": "none", "legendX": 0, "legendY": 206, "direction": "horizontal", "symbolType": "stroke", "symbolSize": 676, "symbolStrokeWidth": 3, "labelOffset": 1, "columnPadding": -2, "labelFontSize": 12}}
        }},
       {"data": {"name": "c1w"}, "mark": {"type": "line", "strokeWidth": 2.5},
        "encoding": {
         "x": {"field": "i", "type": "quantitative", "scale": {"domain": [0, 122], "nice": false, "zero": false},
               "axis": {"title": null, "grid": false, "values": [0,20,40,60,80,100,120], "tickSize": 5, "labelPadding": 10, "labelFontSize": 12, "labelLineHeight": 13,
                        "labelExpr": "[['10 Jul','0:00'],['10 Jul','20:00'],['11 Jul','16:00'],['12 Jul','12:00'],['13 Jul','8:00'],['16 Jul','5:00'],['17 Jul','1:00']][round(datum.value/20)]"}},
         "y": {"field": "v", "type": "quantitative", "scale": {"domain": [1.2946, 1.3333], "nice": false, "zero": false},
               "axis": {"title": null, "grid": false, "values": [1.2946,1.3043,1.314,1.3237,1.3333], "format": ".4f", "tickSize": 5, "labelPadding": 4, "labelFontSize": 12, "minExtent": 50}},
         "color": {"datum": "Close", "type": "nominal", "title": null}
        }},
       {"data": {"name": "l1w"}, "mark": {"type": "text", "align": "right", "baseline": "alphabetic", "dx": 0, "dy": -2, "fontSize": 13, "color": "#000000"},
        "encoding": {
         "x": {"datum": 122, "type": "quantitative"},
         "y": {"field": "v", "type": "quantitative"},
         "text": {"field": "v", "type": "quantitative", "format": ".4f"}
        }}
      ]
     }
    ]
   }
  ]
 }
]
}
